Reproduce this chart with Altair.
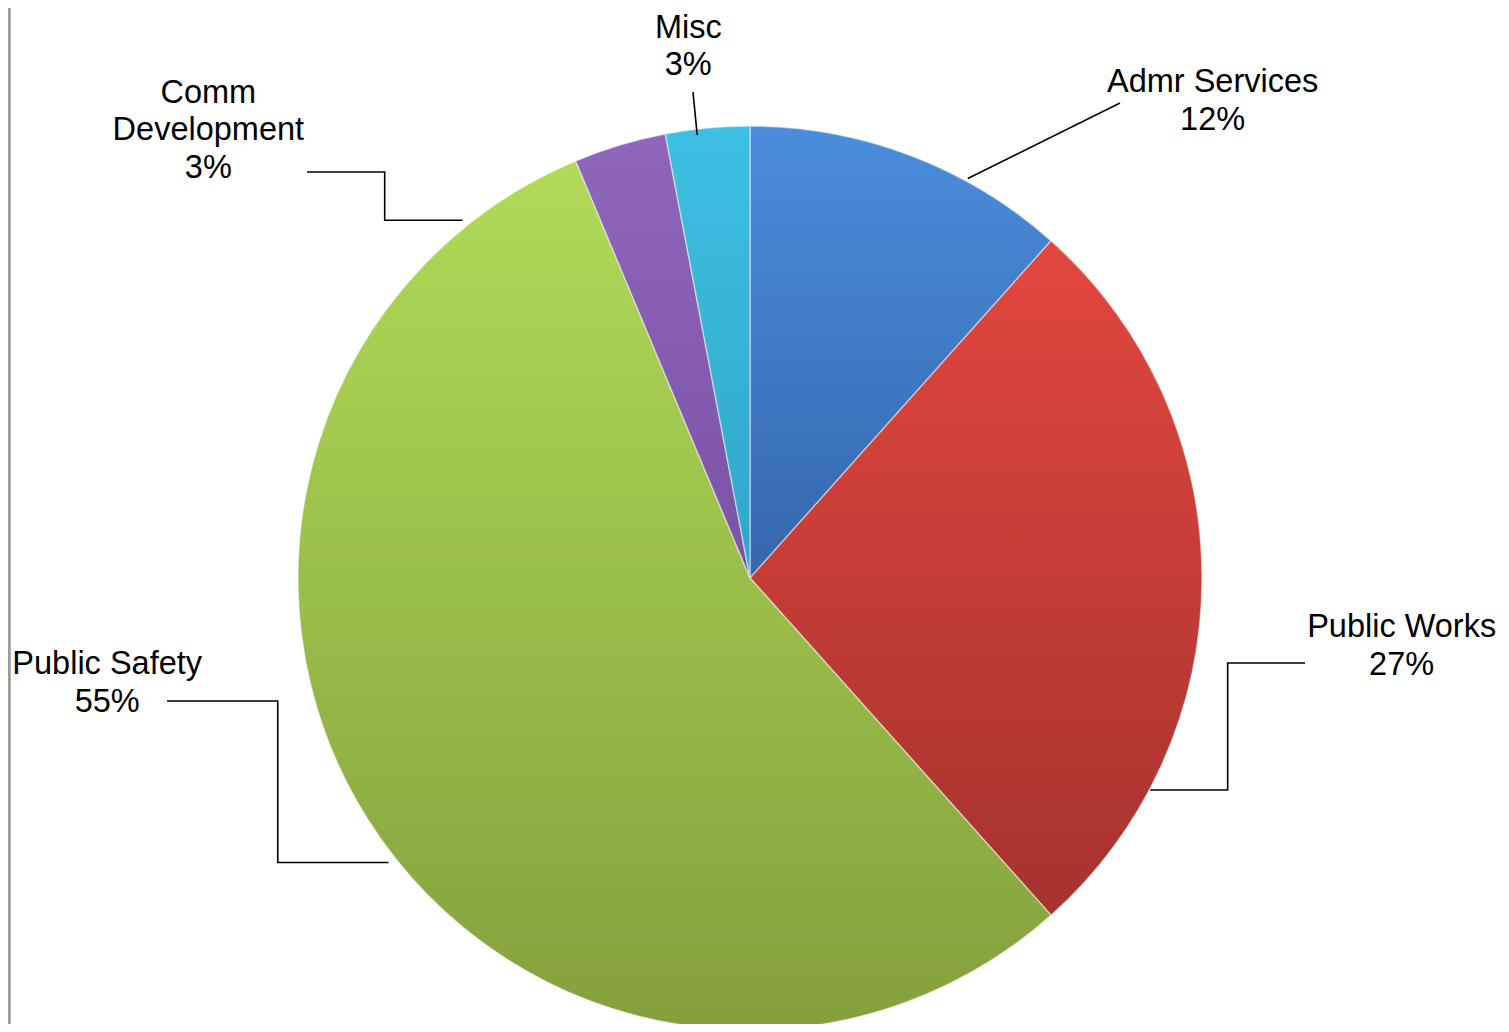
import math
import altair as alt
import pandas as pd

# ---------------- data ----------------
categories = ["Admr Services", "Public Works", "Public Safety", "Comm Development", "Misc"]
values = [11.6, 26.8, 55.3, 3.3, 3.0]          # percent of total
label_names = [["Admr Services"], ["Public Works"], ["Public Safety"], ["Comm", "Development"], ["Misc"]]

# ---------------- styling / layout ----------------
top_colors = ["#4b8ddc", "#e2473f", "#b0db58", "#8e66bb", "#3ec0e2"]
bottom_colors = ["#3467ae", "#a6322e", "#84a03c", "#7a52a6", "#2fa6c9"]

W, H = 1493, 1016
CX, CY, R = 742, 570, 452
FONT = "Liberation Sans"
FS = 32.5
LH = 37.5
TEXT_DY = 2

# label block centre, as (angle from 12 o'clock in degrees, distance from pie centre in px)
label_polar = {
    "Admr Services": (44.0, 666),
    "Public Works": (95.8, 655),
    "Public Safety": (260.9, 651),
    "Comm Development": (309.7, 704),
    "Misc": (353.4, 537),
}
# leader line: start (angle, radius) on the pie, end offset from pie centre, elbow or straight
leader_layout = {
    "Admr Services": ((28.6, 455), (370, -475), False),
    "Public Works": ((117.9, 453), (555, 85), True),
    "Public Safety": ((231.8, 460), (-583, 123), True),
    "Comm Development": ((321.2, 459), (-443, -406), True),
    "Misc": ((353.2, 446), (-57, -486), False),
}


def polar(angle_deg, dist):
    a = math.radians(angle_deg)
    return CX + dist * math.sin(a), CY - dist * math.cos(a)


slices = pd.DataFrame({"category": categories, "value": values, "order": list(range(len(categories)))})

base = alt.Chart(slices).transform_window(
    cum="sum(value)", sort=[alt.SortField("order")], frame=[None, 0]
).transform_calculate(start="datum.cum - datum.value")

layers = []
for cat, top, bot in zip(categories, top_colors, bottom_colors):
    grad = alt.Gradient(
        gradient="linear",
        stops=[alt.GradientStop(color=top, offset=0), alt.GradientStop(color=bot, offset=1)],
        x1=0, x2=0, y1=0, y2=1,
    )
    layers.append(
        base.transform_filter(alt.datum.category == cat)
        .mark_arc(fill=grad, stroke="#ffffff", strokeOpacity=0.45, strokeWidth=1.5)
        .encode(
            theta=alt.Theta("start:Q", scale=alt.Scale(domain=[0, 100])),
            theta2="cum:Q",
            x=alt.value(CX),
            y=alt.value(CY),
            radius=alt.value(R),
        )
    )

# ---------------- labels ----------------
rows = []
for cat, names, v in zip(categories, label_names, values):
    lines = names + [f"{round(v)}%"]
    bx, by = polar(*label_polar[cat])
    n = len(lines)
    for i, t in enumerate(lines):
        rows.append({"category": cat, "text": t, "x": bx, "y": by + TEXT_DY + (i - (n - 1) / 2) * LH})
labels_df = pd.DataFrame(rows)

labels = alt.Chart(labels_df).mark_text(
    font=FONT, fontSize=FS, color="#000000", align="center", baseline="middle"
).encode(
    x=alt.X("x:Q", scale=None, axis=None),
    y=alt.Y("y:Q", scale=None, axis=None),
    text="text:N",
)

# ---------------- leader lines ----------------
lrows = []
for cat in categories:
    (sa, sr), (ex, ey), elbow = leader_layout[cat]
    sx, sy = polar(sa, sr)
    ex, ey = CX + ex, CY + ey
    pts = [(sx, sy)]
    if elbow:
        mx = (sx + ex) / 2
        pts += [(mx, sy), (mx, ey)]
    pts.append((ex, ey))
    for k, (px, py) in enumerate(pts):
        lrows.append({"category": cat, "seq": k, "x": px, "y": py})
leaders_df = pd.DataFrame(lrows)

leaders = alt.Chart(leaders_df).mark_line(color="#000000", strokeWidth=1.6).encode(
    x=alt.X("x:Q", scale=None, axis=None),
    y=alt.Y("y:Q", scale=None, axis=None),
    detail="category:N",
    order="seq:Q",
)

border = alt.Chart(slices).mark_rule(color="#9a9a9a", strokeWidth=2.5).encode(
    x=alt.value(1), y=alt.value(0), y2=alt.value(H)
)

chart = (
    alt.layer(*layers, leaders, labels, border)
    .properties(width=W, height=H, padding=0, autosize=alt.AutoSizeParams(type="none"), background="white")
    .configure_view(stroke=None)
)

chart.save("out.html", embed_options={"renderer": "svg", "actions": False})
